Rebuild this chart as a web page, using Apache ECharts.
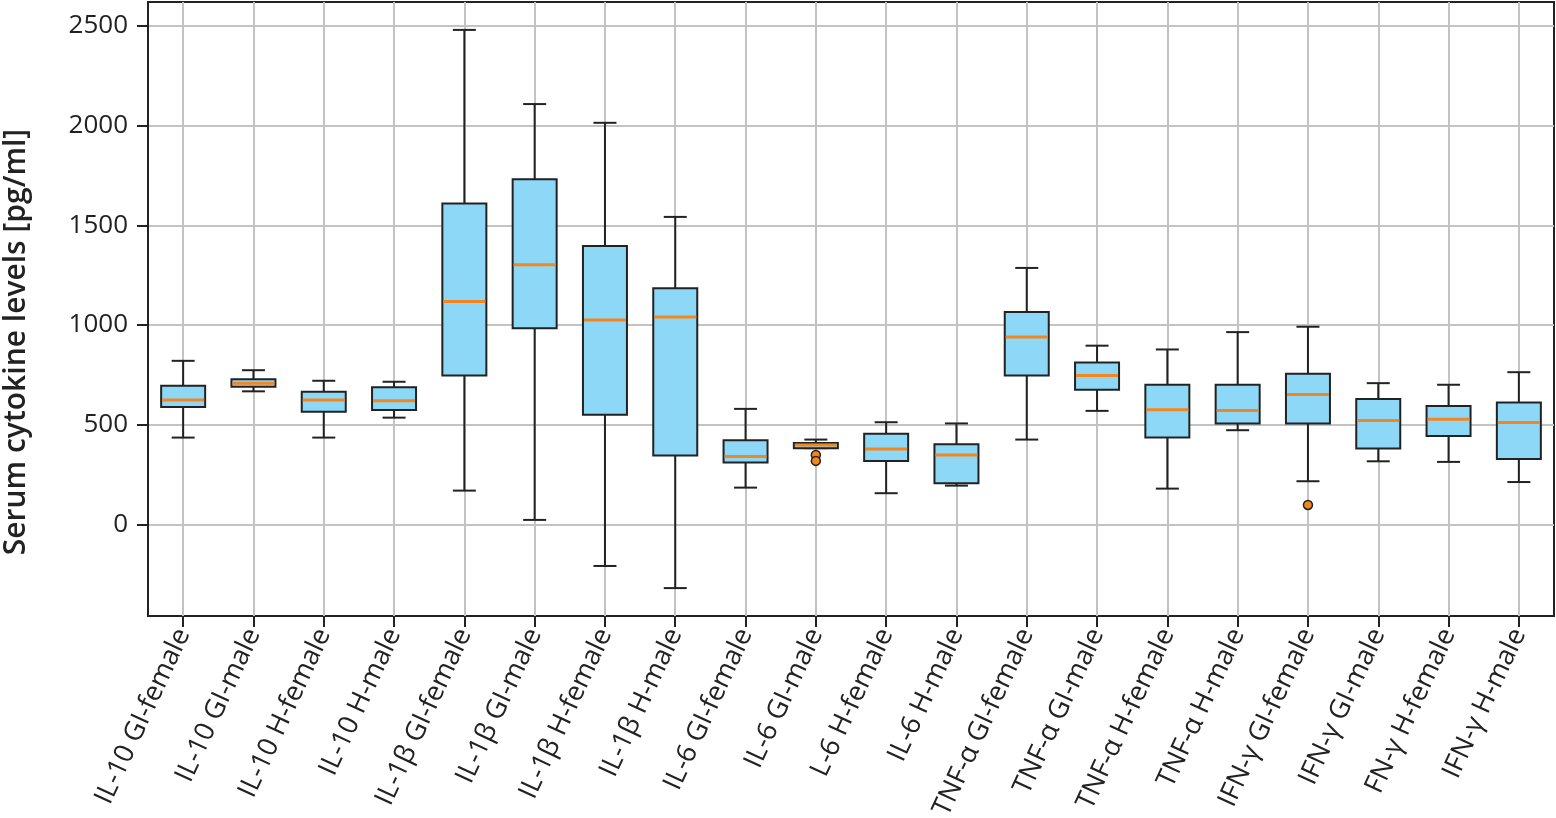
<!DOCTYPE html>
<html>
<head>
<meta charset="utf-8">
<script src="https://cdn.jsdelivr.net/npm/echarts@6/dist/echarts.min.js"></script>
<style>
html,body{margin:0;padding:0;background:#fff;}
#chart{width:1556px;height:818px;}
</style>
</head>
<body>
<div id="chart"></div>
<script>
const categories = [
  "IL-10 GI-female","IL-10 GI-male","IL-10 H-female","IL-10 H-male",
  "IL-1β GI-female","IL-1β GI-male","IL-1β H-female","IL-1β H-male",
  "IL-6 GI-female","IL-6 GI-male","L-6 H-female","IL-6 H-male",
  "TNF-α GI-female","TNF-α GI-male","TNF-α H-female","TNF-α H-male",
  "IFN-γ GI-female","IFN-γ GI-male","FN-γ H-female","IFN-γ H-male"
];
const whiskerLow = [435,667,435,535, 169,22,-209,-320, 184,382,156,194, 425,569,179,472, 216,316,313,212];
const q1Values   = [588,690,565,573, 747,983,549,345, 310,382,318,206, 747,675,435,506, 506,380,443,328];
const medians    = [623,708,623,620, 1118,1302,1025,1040, 340,398,378,348, 939,747,574,571, 651,521,527,511];
const q3Values   = [695,728,665,687, 1609,1731,1396,1184, 422,408,454,402, 1065,812,700,700, 755,629,594,611];
const whiskerHigh= [820,773,720,715, 2480,2108,2014,1542, 579,425,512,506, 1286,896,877,964, 991,708,700,763];
const outliers = [[9,348],[9,318],[16,97]];
const yTicks = [0,500,1000,1500,2000,2500];

const boxData = categories.map((c,i)=>[i, whiskerLow[i], q1Values[i], medians[i], q3Values[i], whiskerHigh[i]]);

const DARK = '#222222';
const FONT = 'Open Sans';

const chart = echarts.init(document.getElementById('chart'), null, {renderer:'canvas'});

function renderBox(params, api){
  const x = api.value(0);
  const pLow = api.coord([x, api.value(1)]);
  const pQ1 = api.coord([x, api.value(2)]);
  const pMed = api.coord([x, api.value(3)]);
  const pQ3 = api.coord([x, api.value(4)]);
  const pHigh = api.coord([x, api.value(5)]);
  const cx = pLow[0];
  const bw = 44, cw = 23;
  const lineStyle = {stroke: DARK, lineWidth: 2};
  return {
    type: 'group',
    children: [
      {type:'line', shape:{x1:cx,y1:pLow[1],x2:cx,y2:pQ1[1]}, style:lineStyle},
      {type:'line', shape:{x1:cx,y1:pQ3[1],x2:cx,y2:pHigh[1]}, style:lineStyle},
      {type:'line', shape:{x1:cx-cw/2,y1:pLow[1],x2:cx+cw/2,y2:pLow[1]}, style:lineStyle},
      {type:'line', shape:{x1:cx-cw/2,y1:pHigh[1],x2:cx+cw/2,y2:pHigh[1]}, style:lineStyle},
      {type:'rect', shape:{x:cx-bw/2,y:pQ3[1],width:bw,height:pQ1[1]-pQ3[1]}, style:{fill:'#8dd8f6', stroke:DARK, lineWidth:2}},
      {type:'line', shape:{x1:cx-bw/2+1,y1:pMed[1],x2:cx+bw/2-1,y2:pMed[1]}, style:{stroke:'#f5861f', lineWidth:3}}
    ]
  };
}

chart.setOption({
  animation: false,
  backgroundColor: '#fff',
  grid: {left:148, right:2, top:2, bottom:202, show:true, borderColor:DARK, borderWidth:2, containLabel:false, outerBoundsMode:'none'},
  xAxis: {
    type:'category', data: categories, boundaryGap:true,
    axisLine:{show:true, onZero:false, lineStyle:{color:DARK, width:2}},
    axisTick:{show:true, alignWithLabel:true, length:11, lineStyle:{color:DARK, width:2}},
    axisLabel:{interval:0, rotate:65, fontSize:27, color:DARK, fontFamily:FONT, margin:14},
    splitLine:{show:false}
  },
  yAxis: {
    type:'value', min:-460, max:2620,
    name:'Serum cytokine levels [pg/ml]', nameLocation:'middle', nameGap:117,
    nameTextStyle:{fontSize:30, fontWeight:600, color:DARK, fontFamily:FONT, padding:[0,66,0,0]},
    axisLine:{show:true, lineStyle:{color:DARK, width:2}},
    axisTick:{show:true, length:11, customValues:yTicks, lineStyle:{color:DARK, width:2}},
    axisLabel:{customValues:yTicks, fontSize:26, color:DARK, fontFamily:FONT, margin:20, formatter: v => String(v)},
    splitLine:{show:true, lineStyle:{color:'#c3c3c6', width:2}}
  },
  series: [
    {
      type:'line', data: categories.map(()=>null), z:1, silent:true,
      markLine:{silent:true, symbol:'none', label:{show:false},
        lineStyle:{color:'#c3c3c6', width:2, type:'solid'},
        data: categories.map(c=>({xAxis:c}))}
    },
    {
      type:'custom', renderItem: renderBox, data: boxData, z:5,
      encode:{x:0, y:[1,2,3,4,5]}
    },
    {
      type:'scatter', data: outliers, z:6, symbolSize:9,
      itemStyle:{color:'#f5861f', borderColor:DARK, borderWidth:1.5, opacity:1}
    }
  ]
});
</script>
</body>
</html>
